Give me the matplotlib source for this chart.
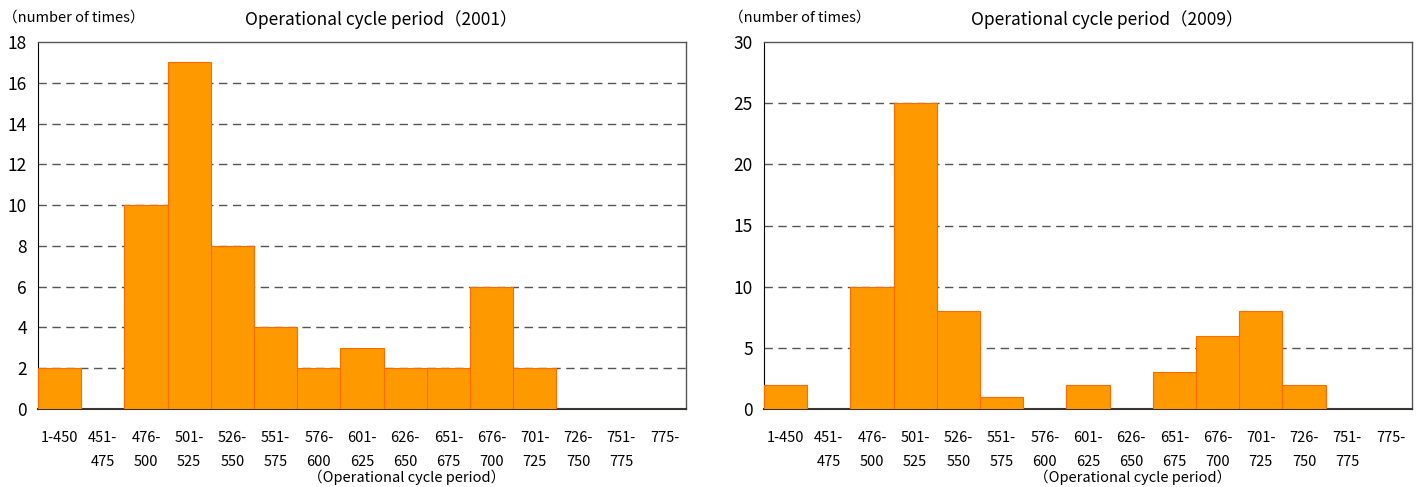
import numpy as np
import matplotlib
matplotlib.use("Agg")
import matplotlib.pyplot as plt

plt.rcParams['font.family'] = ['Noto Sans CJK JP', 'DejaVu Sans']

categories = ["1-450", "451-\n475", "476-\n500", "501-\n525", "526-\n550", "551-\n575",
              "576-\n600", "601-\n625", "626-\n650", "651-\n675", "676-\n700", "701-\n725",
              "726-\n750", "751-\n775", "775-\n"]
counts_2001 = [2, 0, 10, 17, 8, 4, 2, 3, 2, 2, 6, 2, 0, 0, 0]
counts_2009 = [2, 0, 10, 25, 8, 1, 0, 2, 0, 3, 6, 8, 2, 0, 0]

W, H = 1418, 487
fig = plt.figure(figsize=(W / 100, H / 100), dpi=100)

panels = [
    (38, counts_2001, "Operational cycle period（2001）", 18, 2),
    (764, counts_2009, "Operational cycle period（2009）", 30, 5),
]

for left, vals, title, ymax, step in panels:
    ax = fig.add_axes([left / W, 1 - 409 / H, 648 / W, 367 / H])
    x = np.arange(len(categories))
    ax.bar(x, vals, width=1.0, color="#FF9900", edgecolor="#FF6A00", linewidth=0.8, zorder=3)
    ax.set_xlim(-0.5, len(categories) - 0.5)
    ax.set_ylim(0, ymax)
    ax.set_yticks(np.arange(0, ymax + 1, step))
    for yv in np.arange(step, ymax, step):
        ax.axhline(yv, color="#555555", linestyle=(0, (6, 4)), linewidth=1.0, zorder=1)
    ax.set_xticks(x)
    ax.set_xticklabels(categories, fontsize=10.5, linespacing=1.9)
    ax.tick_params(axis="x", length=0, pad=16)
    ax.tick_params(axis="y", length=0, labelsize=12.5, pad=8)
    for s in ["top", "right"]:
        ax.spines[s].set_color("#555555")
        ax.spines[s].set_linewidth(1.0)
    ax.spines["left"].set_color("black")
    ax.spines["bottom"].set_color("#333333")
    ax.spines["bottom"].set_linewidth(1.5)
    fig.text((left + 343) / W, 1 - 20 / H, title, fontsize=12.5, ha="center", va="center")
    fig.text((left + 369) / W, 1 - 477 / H, "（Operational cycle period）", fontsize=10.5,
             ha="center", va="center")
    fig.text((left - 35) / W, 1 - 18 / H, "（number of times）", fontsize=10.5,
             ha="left", va="center")

fig.savefig("out.png", dpi=100)
